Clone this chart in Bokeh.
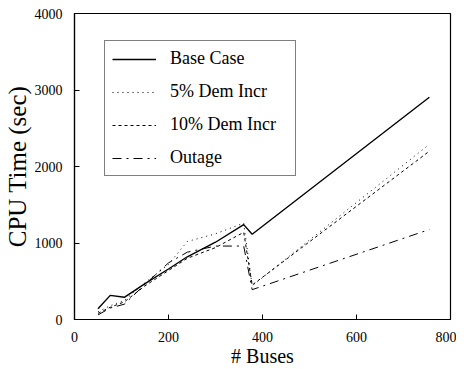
from bokeh.plotting import figure
from bokeh.models import Legend, LegendItem, FixedTicker
from bokeh.embed import file_html
from bokeh.resources import INLINE

# Data
buses = [50, 76, 106, 150, 200, 240, 300, 360, 378, 755]
base_case = [140, 315, 290, 470, 660, 820, 1010, 1240, 1115, 2906]
dem_incr_5 = [100, 180, 250, 480, 720, 1020, 1120, 1260, 440, 2290]
dem_incr_10 = [80, 160, 230, 440, 640, 800, 940, 1140, 450, 2200]
outage = [60, 150, 200, 460, 740, 880, 960, 960, 390, 1176]

x_ticks = [0, 200, 400, 600, 800]
y_ticks = [0, 1000, 2000, 3000, 4000]

FONT = "Liberation Serif"

p = figure(frame_width=376, frame_height=306, output_backend="svg", toolbar_location=None,
           x_range=(0, 800), y_range=(0, 4000),
           min_border_left=70, min_border_right=6, min_border_top=13, min_border_bottom=35)
p.background_fill_color = "white"
p.border_fill_color = "white"
p.outline_line_color = "black"
p.outline_line_width = 1.2
p.xgrid.visible = False
p.ygrid.visible = False

for ax, ticks in ((p.xaxis[0], x_ticks), (p.yaxis[0], y_ticks)):
    ax.ticker = FixedTicker(ticks=ticks)
    ax.major_tick_in = 5
    ax.major_tick_out = 0
    ax.minor_tick_in = 0
    ax.minor_tick_out = 0
    ax.axis_line_color = "black"
    ax.axis_line_width = 1.2
    ax.major_label_text_font = FONT
    ax.major_label_text_font_size = "14px"
    ax.major_label_text_color = "black"
    ax.axis_label_text_font = FONT
    ax.axis_label_text_font_style = "normal"
    ax.axis_label_text_color = "black"

p.xaxis.axis_label = "# Buses"
p.xaxis.axis_label_text_font_size = "20px"
p.xaxis.major_label_standoff = 12
p.xaxis.axis_label_standoff = 0
p.yaxis.axis_label = "CPU Time (sec)"
p.yaxis.axis_label_text_font_size = "25px"
p.yaxis.major_label_standoff = 12
p.yaxis.axis_label_standoff = 1

r1 = p.line(buses, base_case, line_color="black", line_width=1.4)
r2 = p.line(buses, dem_incr_5, line_color="black", line_width=1, line_dash="1 4")
r3 = p.line(buses, dem_incr_10, line_color="black", line_width=1, line_dash="3 3")
r4 = p.line(buses, outage, line_color="black", line_width=1, line_dash="9 5 2 5")

legend = Legend(items=[
    LegendItem(label="Base Case", renderers=[r1]),
    LegendItem(label="5% Dem Incr", renderers=[r2]),
    LegendItem(label="10% Dem Incr", renderers=[r3]),
    LegendItem(label="Outage", renderers=[r4]),
], location=(30, 143))
legend.label_text_font = FONT
legend.label_text_font_size = "18px"
legend.label_text_color = "black"
legend.glyph_width = 44
legend.glyph_height = 20
legend.label_height = 20
legend.label_width = 118
legend.spacing = 12
legend.padding = 7
legend.margin = 0
legend.label_standoff = 14
legend.border_line_color = "black"
legend.border_line_width = 1.2
legend.background_fill_alpha = 1
p.add_layout(legend, "center")

open("out.html", "w").write(file_html(p, INLINE))
